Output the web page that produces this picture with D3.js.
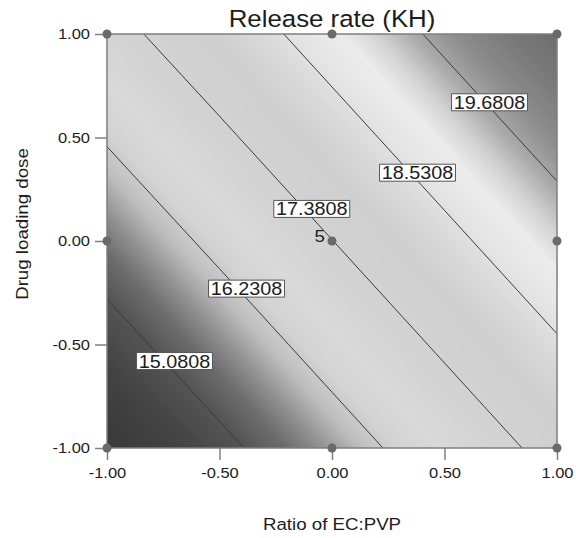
<!DOCTYPE html>
<html>
<head>
<meta charset="utf-8">
<script src="https://cdn.jsdelivr.net/npm/d3@7"></script>
<style>
body { margin: 0; background: #fff; }
text { font-family: "Liberation Sans", Arial, sans-serif; fill: #1c1c1c; }
</style>
</head>
<body>
<svg id="chart" width="576" height="538"></svg>
<script>
// factor levels of the 5x5 grid the response was read at
var gridX = [-1, -0.5, 0, 0.5, 1];
var gridY = [1, 0.5, 0, -0.5, -1];
// release rate, rows go from top (y = 1) to bottom (y = -1)
var response = [
    [17.08, 18.00, 18.93, 19.86, 20.79],
    [16.30, 17.22, 18.15, 19.08, 20.01],
    [15.52, 16.44, 17.37, 18.30, 19.23],
    [14.74, 15.66, 16.59, 17.52, 18.45],
    [13.96, 14.88, 15.81, 16.74, 17.67]
];
var levels = [15.0808, 16.2308, 17.3808, 18.5308, 19.6808];
var levelAt = [[-0.70, -0.58], [-0.38, -0.23], [-0.09, 0.155], [0.38, 0.33], [0.70, 0.67]];
var designX = [-1, 0, 1, -1, 0, 1, -1, 0, 1];
var designY = [1, 1, 1, 0, 0, 0, -1, -1, -1];
var centerRuns = "5";
var tickValues = [-1, -0.5, 0, 0.5, 1];
var tickLabels = ["-1.00", "-0.50", "0.00", "0.50", "1.00"];

var svg = d3.select("#chart");
var pl = 107, pr = 557, pt = 34, pb = 448;
var sx = 1.1; // the original lettering runs a bit wide

var x = d3.scaleLinear().domain([-1, 1]).range([pl, pr]);
var y = d3.scaleLinear().domain([-1, 1]).range([pb, pt]);

var nx = gridX.length, ny = gridY.length;
var gx = d3.scaleLinear().domain([0.5, nx - 0.5]).range([x(gridX[0]), x(gridX[nx - 1])]);
var gy = d3.scaleLinear().domain([0.5, ny - 0.5]).range([y(gridY[0]), y(gridY[ny - 1])]);

function ringPath(ring) {
    return "M" + ring.map(p => gx(p[0]) + "," + gy(p[1])).join("L") + "Z";
}
function contourPath(c) {
    return c.coordinates.map(poly => poly.map(ringPath).join("")).join("");
}

// design-expert colour ramp as it comes out in grey
var shade = d3.scaleLinear()
    .domain([13.9, 14.6, 15.1, 15.45, 15.75, 16.05, 16.35, 16.7, 17.2, 17.9, 18.35, 18.7, 19.0, 19.3, 19.6, 19.95, 20.35, 20.85])
    .range(["#383838", "#444", "#555", "#6e6e6e", "#949494", "#bebebe", "#d3d3d3", "#d9d9d9", "#d3d3d3", "#cfcfcf", "#dadada", "#e6e6e6", "#ececec", "#d2d2d2", "#aaa", "#8d8d8d", "#7b7b7b", "#6c6c6c"])
    .clamp(true);

var values = response.flat();
var step = 0.04;
var bands = d3.contours().size([nx, ny]).thresholds(d3.range(13.9, 20.9, step))(values);

svg.append("clipPath").attr("id", "plot")
    .append("rect").attr("x", pl).attr("y", pt)
    .attr("width", pr - pl).attr("height", pb - pt);

var plot = svg.append("g").attr("clip-path", "url(#plot)");

plot.append("rect")
    .attr("x", pl).attr("y", pt)
    .attr("width", pr - pl).attr("height", pb - pt)
    .attr("fill", shade(13.9));

plot.selectAll("path.band")
    .data(bands)
    .join("path")
    .attr("class", "band")
    .attr("d", contourPath)
    .attr("fill", d => shade(d.value + step / 2))
    .attr("stroke", d => shade(d.value + step / 2))
    .attr("stroke-width", 0.3);

var lines = d3.contours().size([nx, ny]).thresholds(levels)(values);
plot.selectAll("path.level")
    .data(lines)
    .join("path")
    .attr("class", "level")
    .attr("d", contourPath)
    .attr("fill", "none")
    .attr("stroke", "#3a3a3a")
    .attr("stroke-width", 1);

svg.append("rect")
    .attr("x", pl).attr("y", pt)
    .attr("width", pr - pl).attr("height", pb - pt)
    .attr("fill", "none")
    .attr("stroke", "#7f7f7f")
    .attr("stroke-width", 1.5);

var xAxis = svg.append("g")
    .attr("transform", "translate(0," + pb + ")")
    .call(d3.axisBottom(x).tickValues(tickValues).tickFormat((d, i) => tickLabels[i]).tickSize(12).tickPadding(7));
var yAxis = svg.append("g")
    .attr("transform", "translate(" + pl + ",0)")
    .call(d3.axisLeft(y).tickValues(tickValues).tickFormat((d, i) => tickLabels[i]).tickSize(12).tickPadding(5));

[xAxis, yAxis].forEach(function(a) {
    a.attr("font-family", null).attr("font-size", null);
    a.select(".domain").remove();
    a.selectAll(".tick line").attr("stroke", "#808080").attr("stroke-width", 1.5);
    a.selectAll(".tick text")
        .style("font-size", "15px")
        .attr("fill", "#1c1c1c");
});
xAxis.selectAll(".tick text").attr("transform", "scale(" + sx + ",1)");
yAxis.selectAll(".tick text").attr("x", 0).attr("transform", "translate(-17,0) scale(" + sx + ",1)");

// design points
svg.selectAll("circle.run")
    .data(designX)
    .join("circle")
    .attr("class", "run")
    .attr("cx", d => x(d))
    .attr("cy", (d, i) => y(designY[i]))
    .attr("r", 4.5)
    .attr("fill", "#6a6a6a");

svg.append("text")
    .attr("transform", "translate(" + (x(0) - 7) + "," + (y(0) + 1) + ") scale(" + sx + ",1)")
    .attr("text-anchor", "end")
    .style("font-size", "17px")
    .text(centerRuns);

// contour labels in white boxes
var tags = svg.selectAll("g.tag")
    .data(levels)
    .join("g")
    .attr("class", "tag")
    .attr("transform", (d, i) => "translate(" + x(levelAt[i][0]) + "," + y(levelAt[i][1]) + ") scale(" + sx + ",1)");

tags.append("rect")
    .attr("fill", "#fff")
    .attr("stroke", "#555")
    .attr("stroke-width", 1)
    .attr("vector-effect", "non-scaling-stroke");

tags.append("text")
    .attr("text-anchor", "middle")
    .attr("dy", "0.36em")
    .style("font-size", "18px")
    .text(d => d3.format(".4f")(d));

tags.each(function() {
    var g = d3.select(this);
    var w = g.select("text").node().getBBox().width;
    g.select("rect")
        .attr("x", -w / 2 - 2).attr("y", -8.5)
        .attr("width", w + 4).attr("height", 17);
});

svg.append("text")
    .attr("transform", "translate(" + x(0) + ",27) scale(" + sx + ",1)")
    .attr("text-anchor", "middle")
    .style("font-size", "23.5px")
    .text("Release rate (KH)");

svg.append("text")
    .attr("transform", "translate(" + x(0) + ",530) scale(" + sx + ",1)")
    .attr("text-anchor", "middle")
    .style("font-size", "17px")
    .text("Ratio of EC:PVP");

svg.append("text")
    .attr("transform", "translate(28,224) rotate(-90) scale(" + sx + ",1)")
    .attr("text-anchor", "middle")
    .style("font-size", "17px")
    .text("Drug loading dose");
</script>
</body>
</html>
